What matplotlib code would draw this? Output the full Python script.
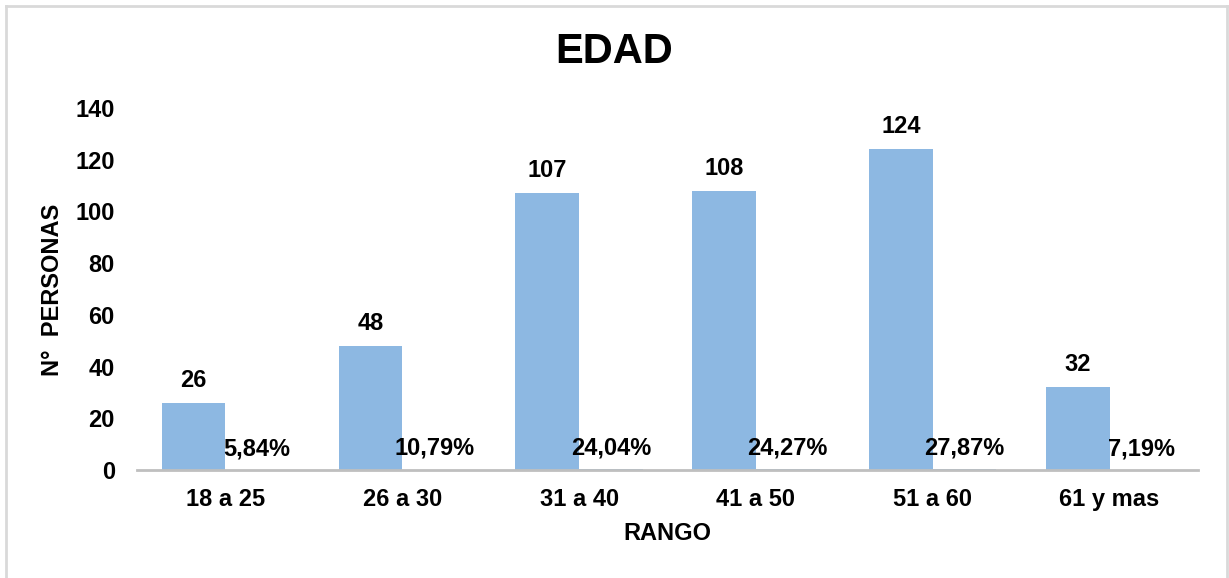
import matplotlib
matplotlib.use("Agg")
import matplotlib.pyplot as plt
from matplotlib.lines import Line2D
import numpy as np

categories = ["18 a 25", "26 a 30", "31 a 40", "41 a 50", "51 a 60", "61 y mas"]
counts = [26, 48, 107, 108, 124, 32]
percents = [5.84, 10.79, 24.04, 24.27, 27.87, 7.19]
pct_labels = ["5,84%", "10,79%", "24,04%", "24,27%", "27,87%", "7,19%"]
yticks = [0, 20, 40, 60, 80, 100, 120, 140]

plt.rcParams['font.family'] = ['Liberation Sans', 'DejaVu Sans']
plt.rcParams['font.weight'] = 'bold'

W, H = 1229, 578
fig = plt.figure(figsize=(W / 100, H / 100), dpi=100)
ax = fig.add_axes([137 / W, (H - 470) / H, (1198 - 137) / W, (470 - 108) / H])

x = np.arange(len(categories))
bw = 0.36
bar_color = '#8DB8E2'
ax.bar(x - bw / 2, counts, width=bw, color=bar_color, zorder=2)
pct_vals = [p / 100 for p in percents]
ax.bar(x + bw / 2, pct_vals, width=bw, color=bar_color, zorder=2)

fs = 17
for xi, c in zip(x, counts):
    ax.annotate(str(c), (xi - bw / 2, c), xytext=(0, 8), textcoords='offset points',
                ha='center', va='bottom', fontsize=fs, fontweight='bold')
for xi, v, lab in zip(x, pct_vals, pct_labels):
    ax.annotate(lab, (xi + bw / 2, v), xytext=(0, 7), textcoords='offset points',
                ha='center', va='bottom', fontsize=fs, fontweight='bold')

ax.set_xlim(-0.5, len(categories) - 0.5)
ax.set_ylim(0, 140)
ax.set_yticks(yticks)
ax.set_yticklabels([str(t) for t in yticks], fontsize=fs, fontweight='bold')
ax.set_xticks(x)
ax.set_xticklabels(categories, fontsize=fs, fontweight='bold')
ax.tick_params(axis='both', length=0)
ax.tick_params(axis='y', pad=16)
ax.tick_params(axis='x', pad=13)
for s in ['top', 'right', 'left']:
    ax.spines[s].set_visible(False)
ax.spines['bottom'].set_color('#BFBFBF')
ax.spines['bottom'].set_linewidth(2)
ax.spines['bottom'].set_zorder(3)

ax.set_xlabel("RANGO", fontsize=fs, fontweight='bold', labelpad=8)
fig.text(53 / W, 1 - 290 / H, "N°  PERSONAS", rotation=90, ha='center', va='center',
         fontsize=fs, fontweight='bold')
fig.text(0.5, 1 - 52 / H, "EDAD", ha='center', va='center', fontsize=30, fontweight='bold')

bc = '#D9D9D9'
fig.add_artist(Line2D([6 / W, 6 / W], [0, 1 - 6 / H], color=bc, lw=2, transform=fig.transFigure))
fig.add_artist(Line2D([6 / W, 1227 / W], [1 - 6 / H, 1 - 6 / H], color=bc, lw=2, transform=fig.transFigure))
fig.add_artist(Line2D([1227 / W, 1227 / W], [0, 1 - 6 / H], color=bc, lw=2, transform=fig.transFigure))

fig.savefig("out.png", dpi=100, facecolor='white')
